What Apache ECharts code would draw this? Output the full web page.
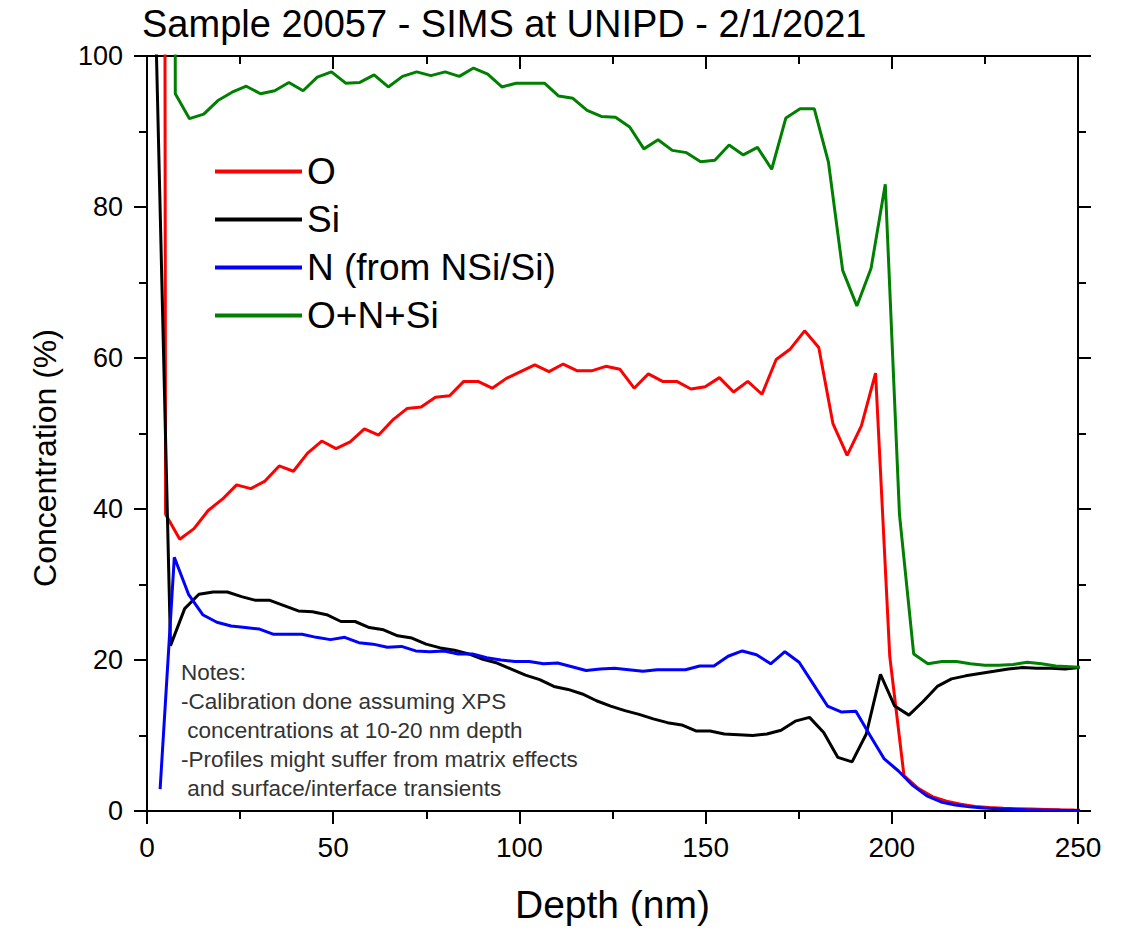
<!DOCTYPE html>
<html>
<head>
<meta charset="utf-8">
<script src="https://cdn.jsdelivr.net/npm/echarts@6/dist/echarts.min.js"></script>
<style>
html,body{margin:0;padding:0;background:#fff;}
#chart{width:1128px;height:929px;}
</style>
</head>
<body>
<div id="chart"></div>
<script>
// ---- Data (depth in nm, concentration in %) ----
const depthO = [1.18, 4.99, 8.80, 12.62, 16.43, 20.24, 24.06, 27.87, 31.68, 35.49, 39.31, 43.12, 46.93, 50.75, 54.56, 58.37, 62.19, 66.00, 69.81, 73.62, 77.44, 81.25, 85.06, 88.88, 92.69, 96.50, 100.32, 104.13, 107.94, 111.75, 115.57, 119.38, 123.19, 127.01, 130.82, 134.63, 138.45, 142.26, 146.07, 149.88, 153.70, 157.51, 161.32, 165.14, 168.95, 172.76, 176.58, 180.39, 184.20, 188.01, 191.83, 195.64, 199.45, 203.27, 207.08, 210.89, 214.71, 218.52, 222.33, 226.14, 229.96, 233.77, 237.58, 241.40, 245.21, 249.02, 252.84];
const valuesO = [1500, 39.3, 36.0, 37.4, 39.8, 41.3, 43.2, 42.7, 43.7, 45.7, 45.0, 47.4, 49.0, 48.0, 48.9, 50.6, 49.8, 51.8, 53.3, 53.5, 54.8, 55.0, 56.9, 56.9, 56.0, 57.3, 58.2, 59.1, 58.2, 59.2, 58.3, 58.3, 58.9, 58.5, 56.0, 57.9, 56.9, 56.9, 55.9, 56.2, 57.4, 55.5, 56.9, 55.2, 59.8, 61.2, 63.6, 61.4, 51.3, 47.1, 51.0, 58.0, 20.5, 4.7, 3.0, 1.9, 1.3, 0.9, 0.6, 0.45, 0.35, 0.3, 0.25, 0.2, 0.15, 0.12, 0.1];

const depthSi = [2.50, 6.31, 10.12, 13.94, 17.75, 21.56, 25.38, 29.19, 33.00, 36.81, 40.63, 44.44, 48.25, 52.07, 55.88, 59.69, 63.51, 67.32, 71.13, 74.94, 78.76, 82.57, 86.38, 90.20, 94.01, 97.82, 101.64, 105.45, 109.26, 113.07, 116.89, 120.70, 124.51, 128.33, 132.14, 135.95, 139.77, 143.58, 147.39, 151.20, 155.02, 158.83, 162.64, 166.46, 170.27, 174.08, 177.90, 181.71, 185.52, 189.33, 193.15, 196.96, 200.77, 204.59, 208.40, 212.21, 216.03, 219.84, 223.65, 227.46, 231.28, 235.09, 238.90, 242.72, 246.53, 250.34];
const valuesSi = [101, 21.9, 26.8, 28.7, 29.0, 29.0, 28.4, 27.9, 27.9, 27.2, 26.5, 26.4, 26.0, 25.1, 25.1, 24.3, 24.0, 23.2, 22.9, 22.1, 21.6, 21.3, 20.8, 20.1, 19.6, 18.8, 18.0, 17.4, 16.5, 16.1, 15.5, 14.6, 13.9, 13.3, 12.8, 12.2, 11.7, 11.4, 10.6, 10.6, 10.2, 10.1, 10.0, 10.2, 10.7, 11.9, 12.4, 10.4, 7.1, 6.5, 10.2, 18.1, 13.9, 12.7, 14.5, 16.5, 17.5, 17.9, 18.2, 18.5, 18.8, 19.0, 18.9, 18.9, 18.8, 19.0];

const depthN = [3.52, 7.33, 11.15, 14.96, 18.77, 22.59, 26.40, 30.21, 34.02, 37.84, 41.65, 45.46, 49.28, 53.09, 56.90, 60.72, 64.53, 68.34, 72.15, 75.97, 79.78, 83.59, 87.41, 91.22, 95.03, 98.85, 102.66, 106.47, 110.28, 114.10, 117.91, 121.72, 125.54, 129.35, 133.16, 136.98, 140.79, 144.60, 148.41, 152.23, 156.04, 159.85, 163.67, 167.48, 171.29, 175.11, 178.92, 182.73, 186.54, 190.36, 194.17, 197.98, 201.80, 205.61, 209.42, 213.24, 217.05, 220.86, 224.67, 228.49, 232.30, 236.11, 239.93, 243.74, 247.55, 251.37];
const valuesN = [2.9, 33.6, 28.7, 26.0, 25.0, 24.5, 24.3, 24.1, 23.4, 23.4, 23.4, 23.0, 22.7, 23.0, 22.3, 22.1, 21.7, 21.8, 21.2, 21.1, 21.2, 20.8, 20.8, 20.3, 20.0, 19.8, 19.8, 19.5, 19.6, 19.1, 18.6, 18.8, 18.9, 18.7, 18.5, 18.7, 18.7, 18.7, 19.2, 19.2, 20.5, 21.2, 20.7, 19.5, 21.1, 19.7, 16.8, 13.9, 13.1, 13.2, 10.0, 6.9, 5.3, 3.4, 2.0, 1.2, 0.8, 0.55, 0.4, 0.3, 0.22, 0.17, 0.13, 0.1, 0.07, 0.05];

const depthSum = [3.79, 7.60, 11.41, 15.23, 19.04, 22.85, 26.67, 30.48, 34.29, 38.10, 41.92, 45.73, 49.54, 53.36, 57.17, 60.98, 64.80, 68.61, 72.42, 76.23, 80.05, 83.86, 87.67, 91.49, 95.30, 99.11, 102.93, 106.74, 110.55, 114.36, 118.18, 121.99, 125.80, 129.62, 133.43, 137.24, 141.06, 144.87, 148.68, 152.49, 156.31, 160.12, 163.93, 167.75, 171.56, 175.37, 179.19, 183.00, 186.81, 190.62, 194.44, 198.25, 202.06, 205.88, 209.69, 213.50, 217.32, 221.13, 224.94, 228.75, 232.57, 236.38, 240.19, 244.01, 247.82, 251.63];
const valuesSum = [1600, 95.0, 91.7, 92.3, 94.1, 95.2, 96.0, 95.0, 95.4, 96.5, 95.4, 97.2, 97.9, 96.4, 96.5, 97.5, 95.9, 97.3, 97.9, 97.4, 97.9, 97.3, 98.4, 97.6, 95.9, 96.4, 96.4, 96.4, 94.7, 94.4, 92.8, 92.0, 91.9, 90.6, 87.7, 88.9, 87.5, 87.2, 86.0, 86.2, 88.2, 86.9, 87.9, 85.0, 91.8, 93.0, 93.0, 85.9, 71.6, 66.9, 71.9, 83.0, 39.3, 20.8, 19.5, 19.8, 19.8, 19.5, 19.3, 19.3, 19.4, 19.7, 19.5, 19.2, 19.1, 19.0];

const seriesNames = ['O', 'Si', 'N (from NSi/Si)', 'O+N+Si'];
const seriesColors = ['#ff0000', '#000000', '#0000ff', '#008000'];
const xTickValues = [0, 50, 100, 150, 200, 250];
const yTickValues = [0, 20, 40, 60, 80, 100];
const titleText = 'Sample 20057 - SIMS at UNIPD - 2/1/2021';
const xAxisTitle = 'Depth (nm)';
const yAxisTitle = 'Concentration (%)';
const notesLines = [
  'Notes:',
  '-Calibration done assuming XPS',
  ' concentrations at 10-20 nm depth',
  '-Profiles might suffer from matrix effects',
  ' and surface/interface transients'
];

// ---- Build ----
function pairs(xs, ys) { return xs.map((x, i) => [x, ys[i]]); }
const seriesData = [
  pairs(depthO, valuesO),
  pairs(depthSi, valuesSi),
  pairs(depthN, valuesN),
  pairs(depthSum, valuesSum)
];

const FONT = 'Liberation Sans, Arial, sans-serif';
const chart = echarts.init(document.getElementById('chart'), null, {renderer: 'svg'});

const axisLineStyle = {color: '#000', width: 2};
const baseX = {
  type: 'value', min: 0, max: 250, interval: 50,
  splitLine: {show: false},
  axisLine: {show: true, onZero: false, lineStyle: axisLineStyle}
};
const baseY = {
  type: 'value', min: 0, max: 100, interval: 20,
  splitLine: {show: false},
  axisLine: {show: true, onZero: false, lineStyle: axisLineStyle}
};

const option = {
  backgroundColor: '#fff',
  animation: false,
  title: {
    text: titleText, left: 137, top: 0,
    textStyle: {fontFamily: FONT, fontSize: 38, fontWeight: 'normal', color: '#000'}
  },
  grid: {left: 147, top: 56, right: 50, bottom: 117, containLabel: false},
  legend: {
    orient: 'vertical', left: 210, top: 148,
    icon: 'rect',
    itemWidth: 87, itemHeight: 4, itemGap: 11,
    data: seriesNames,
    textStyle: {fontFamily: FONT, fontSize: 37, color: '#000'},
    selectedMode: false
  },
  xAxis: [
    Object.assign({}, baseX, {
      position: 'bottom',
      name: xAxisTitle, nameLocation: 'middle', nameGap: 74,
      nameTextStyle: {fontFamily: FONT, fontSize: 39, color: '#000'},
      axisTick: {show: true, inside: false, length: 13, lineStyle: {color: '#000', width: 2}},
      minorTick: {show: true, splitNumber: 2, length: 8, lineStyle: {color: '#000', width: 2}},
      axisLabel: {
        margin: 22, fontFamily: FONT, fontSize: 28, color: '#000',
        formatter: v => (xTickValues.indexOf(v) >= 0 ? String(v) : '')
      }
    }),
    Object.assign({}, baseX, {
      position: 'top',
      axisTick: {show: true, inside: true, length: 13, lineStyle: {color: '#000', width: 2}},
      minorTick: {show: true, splitNumber: 2, length: 8, lineStyle: {color: '#000', width: 2}},
      axisLabel: {show: false}
    })
  ],
  yAxis: [
    Object.assign({}, baseY, {
      position: 'left',
      axisTick: {show: true, inside: false, length: 13, lineStyle: {color: '#000', width: 2}},
      minorTick: {show: true, splitNumber: 2, length: 8, lineStyle: {color: '#000', width: 2}},
      axisLabel: {
        margin: 24, fontFamily: FONT, fontSize: 27, color: '#000',
        formatter: v => (yTickValues.indexOf(v) >= 0 ? String(v) : '')
      }
    }),
    Object.assign({}, baseY, {
      position: 'right',
      axisTick: {show: true, inside: false, length: 13, lineStyle: {color: '#000', width: 2}},
      minorTick: {show: true, splitNumber: 2, length: 8, lineStyle: {color: '#000', width: 2}},
      axisLabel: {show: false}
    })
  ],
  series: seriesNames.map((name, i) => ({
    name: name,
    type: 'line',
    xAxisIndex: 0, yAxisIndex: 0,
    data: seriesData[i],
    symbol: 'none',
    showSymbol: false,
    clip: true,
    smooth: false,
    color: seriesColors[i],
    lineStyle: {color: seriesColors[i], width: 3},
    itemStyle: {color: seriesColors[i]},
    z: 2 + i
  })),
  graphic: [
    {
      type: 'text', x: 45, y: 458, rotation: Math.PI / 2,
      style: {
        text: yAxisTitle, fontFamily: FONT, fontSize: 32, fill: '#000',
        align: 'center', verticalAlign: 'middle'
      }
    },
    {
      type: 'text', left: 181, top: 658,
      style: {
        text: notesLines.join('\n'),
        fontFamily: FONT, fontSize: 22.5, lineHeight: 29, fill: '#333'
      }
    }
  ]
};
chart.setOption(option);
</script>
</body>
</html>
